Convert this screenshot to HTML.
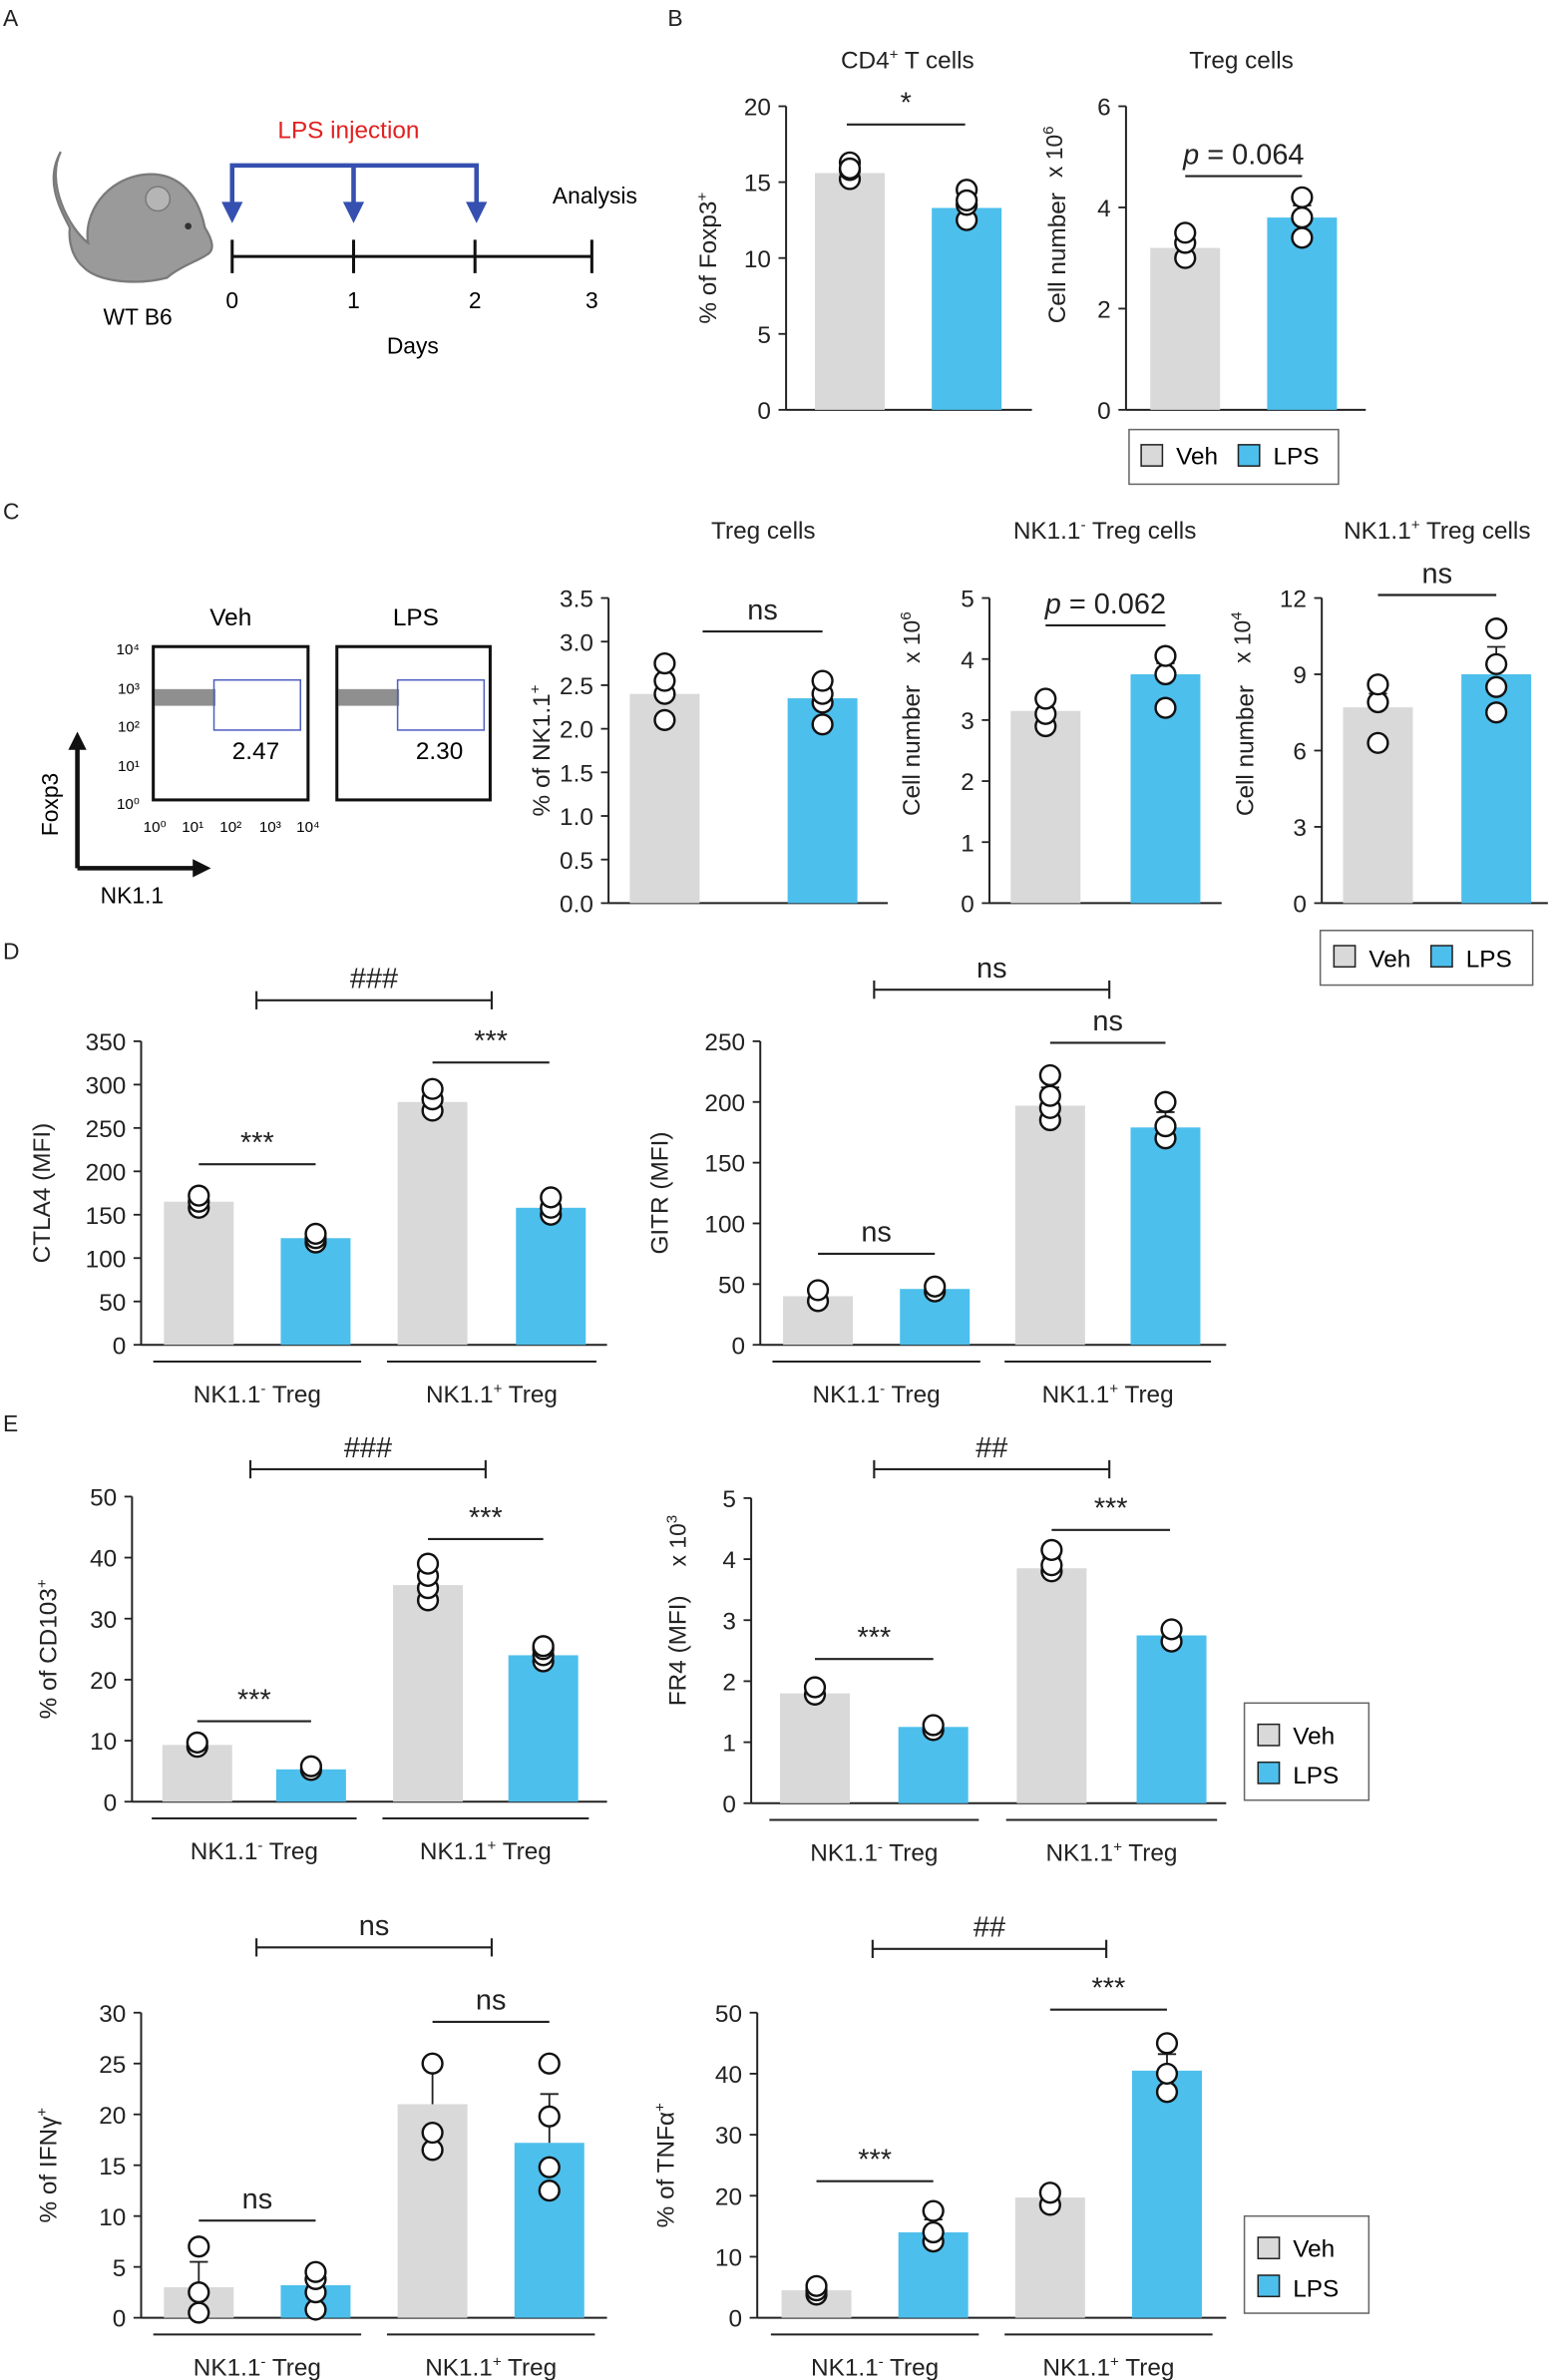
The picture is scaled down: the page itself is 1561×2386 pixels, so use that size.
<!DOCTYPE html>
<html><head><meta charset="utf-8"><style>
html,body{margin:0;padding:0;background:#fff;}
svg{display:block;font-family:"Liberation Sans",Arial,sans-serif;}
</style></head><body>
<svg id="fig" width="1561" height="2386" viewBox="0 0 1026 1568" preserveAspectRatio="none" xmlns="http://www.w3.org/2000/svg">
<g font-size="15" fill="#222">
<text x="2" y="17">A</text><text x="440" y="17">B</text><text x="2" y="342">C</text><text x="2" y="632">D</text><text x="2" y="943">E</text>
</g>
<g>
<path d="M40,100 C30,120 45,150 58,160 C55,140 70,118 95,115 C115,113 130,125 135,150 C140,158 142,165 136,168 C130,172 118,176 110,183 C90,188 65,186 55,176 C48,170 45,160 46,150 C38,135 30,118 40,100Z" fill="#9a9a9a" stroke="#7a7a7a" stroke-width="1.5"/>
<circle cx="104" cy="131" r="8" fill="#b5b5b5" stroke="#7a7a7a"/>
<circle cx="124" cy="149" r="2.2" fill="#333"/>
<text x="68" y="214" font-size="15">WT B6</text>
<text x="183" y="91" font-size="16" fill="#e32020">LPS injection</text>
<path d="M153,137 V109 H314 V137 M233,109 V137" stroke="#3550b0" stroke-width="3" fill="none"/>
<path d="M146,133 L153,147 L160,133Z M226,133 L233,147 L240,133Z M307,133 L314,147 L321,133Z" fill="#3550b0"/>
<line x1="153" y1="169" x2="390" y2="169" stroke="#111" stroke-width="2"/>
<path d="M153,158V180M233,158V180M313,158V180M390,158V180" stroke="#111" stroke-width="2"/>
<g font-size="15" text-anchor="middle"><text x="153" y="203">0</text><text x="233" y="203">1</text><text x="313" y="203">2</text><text x="390" y="203">3</text><text x="272" y="233">Days</text><text x="392" y="134">Analysis</text></g>
</g>
<g font-size="10">
<text x="152" y="412" font-size="16" text-anchor="middle">Veh</text>
<text x="274" y="412" font-size="16" text-anchor="middle">LPS</text>
<rect x="101" y="426" width="102" height="101" fill="none" stroke="#111" stroke-width="2"/>
<rect x="222" y="426" width="101" height="101" fill="none" stroke="#111" stroke-width="2"/>
<rect x="102" y="454" width="40" height="11" fill="#333" opacity="0.55"/>
<rect x="223" y="454" width="40" height="11" fill="#333" opacity="0.55"/>
<rect x="141" y="448" width="57" height="33" fill="none" stroke="#5060c0"/>
<rect x="262" y="448" width="57" height="33" fill="none" stroke="#5060c0"/>
<text x="153" y="500" font-size="16">2.47</text><text x="274" y="500" font-size="16">2.30</text>
<g text-anchor="end"><text x="92" y="431">10⁴</text><text x="92" y="457">10³</text><text x="92" y="482">10²</text><text x="92" y="508">10¹</text><text x="92" y="533">10⁰</text></g>
<g text-anchor="middle"><text x="102" y="548">10⁰</text><text x="127" y="548">10¹</text><text x="152" y="548">10²</text><text x="178" y="548">10³</text><text x="203" y="548">10⁴</text></g>
<path d="M51,572 V490 M51,572 H130" stroke="#111" stroke-width="3" fill="none"/>
<path d="M45,494 L51,482 L57,494Z M127,566 L139,572 L127,578Z" fill="#111"/>
<text x="38" y="530" font-size="15" transform="rotate(-90 38 530)" text-anchor="middle">Foxp3</text>
<text x="87" y="595" font-size="15" text-anchor="middle">NK1.1</text>
</g>
<g id="charts"></g>
<g font-size="16">
<rect x="744" y="283" width="138" height="36" fill="#fff" stroke="#666"/>
<rect x="752" y="293" width="14" height="14" fill="#d9d9d9" stroke="#222"/><text x="775" y="306">Veh</text>
<rect x="816" y="293" width="14" height="14" fill="#4dbfec" stroke="#222"/><text x="839" y="306">LPS</text>
</g>
<g font-size="16">
<rect x="870" y="613" width="140" height="36" fill="#fff" stroke="#666"/>
<rect x="879" y="623" width="14" height="14" fill="#d9d9d9" stroke="#222"/><text x="902" y="637">Veh</text>
<rect x="943" y="623" width="14" height="14" fill="#4dbfec" stroke="#222"/><text x="966" y="637">LPS</text>
</g>
<g font-size="16">
<rect x="820" y="1122" width="82" height="64" fill="#fff" stroke="#666"/>
<rect x="829" y="1136" width="14" height="14" fill="#d9d9d9" stroke="#222"/><text x="852" y="1149">Veh</text>
<rect x="829" y="1161" width="14" height="14" fill="#4dbfec" stroke="#222"/><text x="852" y="1175">LPS</text>
</g>
<g font-size="16">
<rect x="820" y="1460" width="82" height="64" fill="#fff" stroke="#666"/>
<rect x="829" y="1474" width="14" height="14" fill="#d9d9d9" stroke="#222"/><text x="852" y="1487">Veh</text>
<rect x="829" y="1499" width="14" height="14" fill="#4dbfec" stroke="#222"/><text x="852" y="1513">LPS</text>
</g>
</svg>
<script>
const b1Values=[15.6,13.3];
const b1Points=[[15.2,15.8,16.3,15.9],[12.5,13.5,14.5,13.8]];
const b1Ticks=[0,5,10,15,20];
const b2Values=[3.2,3.8];
const b2Points=[[3.0,3.3,3.5],[3.4,3.8,4.2]];
const b2Ticks=[0,2,4,6];
const c2Values=[2.4,2.35];
const c2Points=[[2.1,2.4,2.55,2.75],[2.05,2.3,2.4,2.55]];
const c2Ticks=["0.0","0.5","1.0","1.5","2.0","2.5","3.0","3.5"];
const c3Values=[3.15,3.75];
const c3Points=[[2.9,3.1,3.35],[3.2,3.75,4.05]];
const c3Ticks=[0,1,2,3,4,5];
const c4Values=[7.7,9.0];
const c4Points=[[6.3,7.9,8.6],[7.5,8.5,9.4,10.8]];
const c4Ticks=[0,3,6,9,12];
const d1Values=[165,123,280,158];
const d1Points=[[158,165,172],[118,123,128],[270,283,295],[150,158,170]];
const d1Ticks=[0,50,100,150,200,250,300,350];
const d2Values=[40,46,197,179];
const d2Points=[[36,45],[44,48],[185,195,205,222],[170,180,200]];
const d2Ticks=[0,50,100,150,200,250];
const e1Values=[9.3,5.3,35.5,24];
const e1Points=[[9,9.7],[5.2,5.8],[33,35,37,39],[23,24,25,25.5]];
const e1Ticks=[0,10,20,30,40,50];
const e2Values=[1.8,1.25,3.85,2.75];
const e2Points=[[1.78,1.9],[1.2,1.28],[3.8,3.9,4.15],[2.65,2.85]];
const e2Ticks=[0,1,2,3,4,5];
const e3Values=[3,3.2,21,17.2];
const e3Points=[[0.5,2.5,7],[0.8,2.5,3.8,4.5],[16.5,18.2,25],[12.5,14.8,19.8,25]];
const e3Errors=[2.5,1.2,3.5,4.8];
const e3Ticks=[0,5,10,15,20,25,30];
const e4Values=[4.5,14,19.7,40.5];
const e4Points=[[3.8,4.5,5.2],[12.5,14,17.5],[18.5,20.5],[37,40,45]];
const e4Ticks=[0,10,20,30,40,50];

const NS="http://www.w3.org/2000/svg";
const root=document.getElementById('charts');
function mk(tag,attrs,parent){const e=document.createElementNS(NS,tag);for(const k in attrs)e.setAttribute(k,attrs[k]);(parent||root).appendChild(e);return e;}
const COLORS=["#d9d9d9","#4dbfec","#d9d9d9","#4dbfec"];

function chart(name,cfg,values,points,ticks,errors){
  const g=mk('g',{});
  
  
  const maxV=Number(ticks[ticks.length-1]);
  const y=v=>cfg.bot-(v/maxV)*(cfg.bot-cfg.top);
  mk('line',{x1:cfg.ax,y1:cfg.top,x2:cfg.ax,y2:cfg.bot,stroke:'#222','stroke-width':1.3},g);
  mk('line',{x1:cfg.ax,y1:cfg.bot,x2:cfg.xEnd,y2:cfg.bot,stroke:'#222','stroke-width':1.3},g);
  ticks.forEach(t=>{
    const yy=y(Number(t));
    mk('line',{x1:cfg.ax-5,y1:yy,x2:cfg.ax,y2:yy,stroke:'#222','stroke-width':1.2},g);
    const tx=mk('text',{x:cfg.ax-10,y:yy+6,'font-size':16,'text-anchor':'end',fill:'#222'},g);
    tx.textContent=String(t);
  });
  values.forEach((v,i)=>{
    const cx=cfg.centers[i];
    const bar=mk('rect',{x:cx-23,y:y(v),width:46,height:cfg.bot-y(v),fill:COLORS[i]},g);
    
    
    let top;
    if(errors){top=v+errors[i];}
    else {top=v+(Math.max(...points[i])-v)*0.6;}
    if(top>v){
      mk('line',{x1:cx,y1:y(v),x2:cx,y2:y(top),stroke:'#222','stroke-width':1.2},g);
      mk('line',{x1:cx-6,y1:y(top),x2:cx+6,y2:y(top),stroke:'#222','stroke-width':1.2},g);
    }
    points[i].forEach(p=>{
      const c=mk('circle',{cx:cx,cy:y(p),r:6.5,fill:'#fff',stroke:'#111','stroke-width':1.6},g);
      
      
    });
  });
  if(cfg.cats){
    [[0,1],[2,3]].forEach((pr,k)=>{
      const a=cfg.centers[pr[0]]-30,b=cfg.centers[pr[1]]+30;
      mk('line',{x1:a,y1:cfg.bot+11,x2:b,y2:cfg.bot+11,stroke:'#222','stroke-width':1.3},g);
      const t=mk('text',{x:(a+b)/2,y:cfg.bot+38,'font-size':16,'text-anchor':'middle',fill:'#222'},g);
      t.innerHTML=k==0?'NK1.1<tspan dy="-6" font-size="10">-</tspan><tspan dy="6"> Treg</tspan>':'NK1.1<tspan dy="-6" font-size="10">+</tspan><tspan dy="6"> Treg</tspan>';
    });
  }
  (cfg.sig||[]).forEach(s=>{
    mk('line',{x1:s[0],y1:s[2],x2:s[1],y2:s[2],stroke:'#222','stroke-width':1.4},g);
    if(s[4]){mk('line',{x1:s[0],y1:s[2]-6,x2:s[0],y2:s[2]+6,stroke:'#222','stroke-width':1.4},g);mk('line',{x1:s[1],y1:s[2]-6,x2:s[1],y2:s[2]+6,stroke:'#222','stroke-width':1.4},g);}
    const t=mk('text',{x:(s[0]+s[1])/2,y:s[2]-8,'font-size':19,'text-anchor':'middle',fill:'#222'},g);
    t.innerHTML=s[3];
  });
  if(cfg.title){const t=mk('text',{x:cfg.tx,y:cfg.ty||(cfg.top-25),'font-size':16,'text-anchor':'middle',fill:'#222'},g);t.innerHTML=cfg.title;}
  if(cfg.ylab){const t=mk('text',{x:cfg.ylx,y:(cfg.top+cfg.bot)/2,'font-size':16,'text-anchor':'middle',fill:'#222',transform:`rotate(-90 ${cfg.ylx} ${(cfg.top+cfg.bot)/2})`},g);t.innerHTML=cfg.ylab;}
  if(cfg.mult){const t=mk('text',{x:cfg.mx,y:cfg.my,'font-size':15,'text-anchor':'middle',fill:'#222',transform:`rotate(-90 ${cfg.mx} ${cfg.my})`},g);t.innerHTML=cfg.mult;}
}
const pI='<tspan font-style="italic">p</tspan>';
chart('cd4-foxp3-chart',{ax:518,top:70,bot:270,xEnd:680,centers:[560,637],title:'CD4<tspan dy="-6" font-size="10">+</tspan><tspan dy="6"> T cells</tspan>',tx:598,ylab:'% of Foxp3<tspan dy="-6" font-size="10">+</tspan>',ylx:472,sig:[[558,636,82,'*']]},b1Values,b1Points,b1Ticks);
chart('treg-number-chart',{ax:742,top:70,bot:270,xEnd:900,centers:[781,858],title:'Treg cells',tx:818,ylab:'Cell number',ylx:702,mult:'x 10<tspan dy="-6" font-size="10">6</tspan>',mx:700,my:100,sig:[[781,858,116,pI+' = 0.064']]},b2Values,b2Points,b2Ticks);
chart('nk11-pct-chart',{ax:401,top:394,bot:595,xEnd:585,centers:[438,542],title:'Treg cells',tx:503,ty:355,ylab:'% of NK1.1<tspan dy="-6" font-size="10">+</tspan>',ylx:362,sig:[[463,542,416,'ns']]},c2Values,c2Points,c2Ticks);
chart('nk11neg-number-chart',{ax:652,top:394,bot:595,xEnd:805,centers:[689,768],title:'NK1.1<tspan dy="-6" font-size="10">-</tspan><tspan dy="6"> Treg cells</tspan>',tx:728,ty:355,ylab:'Cell number',ylx:606,mult:'x 10<tspan dy="-6" font-size="10">6</tspan>',mx:606,my:420,sig:[[689,768,412,pI+' = 0.062']]},c3Values,c3Points,c3Ticks);
chart('nk11pos-number-chart',{ax:871,top:394,bot:595,xEnd:1020,centers:[908,986],title:'NK1.1<tspan dy="-6" font-size="10">+</tspan><tspan dy="6"> Treg cells</tspan>',tx:947,ty:355,ylab:'Cell number',ylx:826,mult:'x 10<tspan dy="-6" font-size="10">4</tspan>',mx:824,my:420,sig:[[908,986,392,'ns']]},c4Values,c4Points,c4Ticks);
chart('ctla4-chart',{ax:93,top:686,bot:886,xEnd:400,centers:[131,208,285,363],cats:1,ylab:'CTLA4 (MFI)',ylx:33,sig:[[169,324,659,'###',1],[131,208,767,'***'],[285,362,700,'***']]},d1Values,d1Points,d1Ticks);
chart('gitr-chart',{ax:501,top:686,bot:886,xEnd:808,centers:[539,616,692,768],cats:1,ylab:'GITR (MFI)',ylx:440,sig:[[576,731,652,'ns',1],[539,616,826,'ns'],[692,768,687,'ns']]},d2Values,d2Points,d2Ticks);
chart('cd103-chart',{ax:87,top:986,bot:1187,xEnd:400,centers:[130,205,282,358],cats:1,ylab:'% of CD103<tspan dy="-6" font-size="10">+</tspan>',ylx:37,sig:[[165,320,968,'###',1],[130,205,1134,'***'],[282,358,1014,'***']]},e1Values,e1Points,e1Ticks);
chart('fr4-chart',{ax:495,top:987,bot:1188,xEnd:808,centers:[537,615,693,772],cats:1,ylab:'FR4 (MFI)',ylx:452,mult:'x 10<tspan dy="-6" font-size="10">3</tspan>',mx:452,my:1015,sig:[[576,731,968,'##',1],[537,615,1093,'***'],[693,771,1008,'***']]},e2Values,e2Points,e2Ticks);
chart('ifng-chart',{ax:93,top:1326,bot:1527,xEnd:400,centers:[131,208,285,362],cats:1,ylab:'% of IFNγ<tspan dy="-6" font-size="10">+</tspan>',ylx:37,sig:[[169,324,1283,'ns',1],[131,208,1463,'ns'],[285,362,1332,'ns']]},e3Values,e3Points,e3Ticks,e3Errors);
chart('tnfa-chart',{ax:499,top:1326,bot:1527,xEnd:808,centers:[538,615,692,769],cats:1,ylab:'% of TNFα<tspan dy="-6" font-size="10">+</tspan>',ylx:444,sig:[[575,729,1284,'##',1],[538,615,1437,'***'],[692,769,1324,'***']]},e4Values,e4Points,e4Ticks);
</script>
</body></html>
